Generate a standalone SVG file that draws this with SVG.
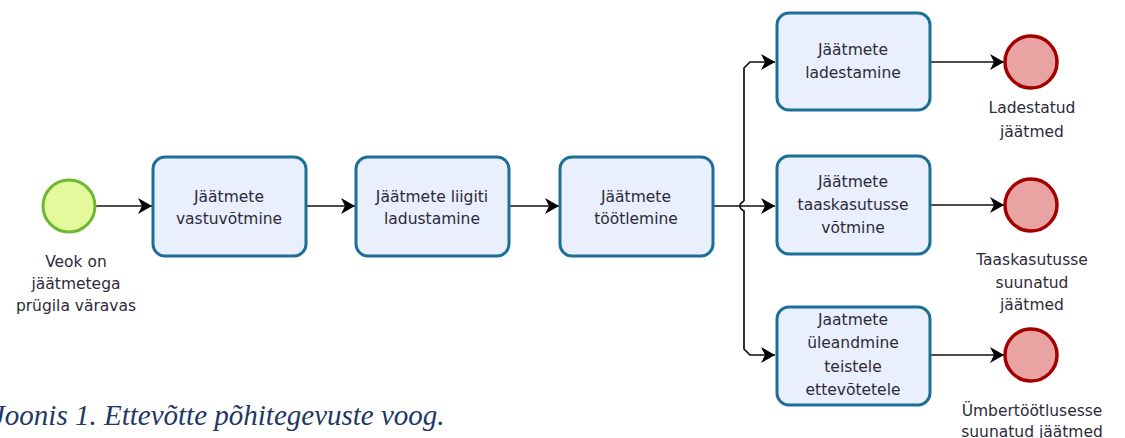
<svg xmlns="http://www.w3.org/2000/svg" width="1125" height="438" viewBox="0 0 1125 438">
<style>
.task{fill:#e9effc;stroke:#1d6f98;stroke-width:3}
.start{fill:#e4f99c;stroke:#6cb931;stroke-width:3}
.end{fill:#e9a3a3;stroke:#a40000;stroke-width:3.5}
.t{font-family:"DejaVu Sans",sans-serif;font-size:15.5px;fill:#2e2a3a;text-anchor:middle}
.c{fill:none;stroke:#111;stroke-width:1.7}
.cap{font-family:"Liberation Serif",serif;font-style:italic;font-size:29px;fill:#1f3864}
</style>
<defs>
<marker id="ar" markerWidth="15" markerHeight="16" refX="14" refY="8" orient="auto" markerUnits="userSpaceOnUse">
<path d="M0,0 L14,8 L0,16 L4,8 z" fill="#000"/>
</marker>
</defs>
<rect width="1125" height="438" fill="#fff"/>
<g id="connectors">
<path class="c" d="M95,206 L152,206" marker-end="url(#ar)"/>
<path class="c" d="M306,206 L355,206" marker-end="url(#ar)"/>
<path class="c" d="M509,206 L559,206" marker-end="url(#ar)"/>
<path class="c" d="M713,206 L775,206" marker-end="url(#ar)"/>
<path class="c" d="M744,201 L744,68 L750,62 L775,62" marker-end="url(#ar)"/>
<path class="c" d="M744,201 Q740,203 740,206 Q740,209 744,211 L744,349 L750,355 L775,355" marker-end="url(#ar)"/>
<path class="c" d="M930,62 L1004,62" marker-end="url(#ar)"/>
<path class="c" d="M930,205 L1004,205" marker-end="url(#ar)"/>
<path class="c" d="M930,355 L1004,355" marker-end="url(#ar)"/>
</g>
<g id="start">
<circle class="start" cx="69" cy="206" r="26"/>
<text class="t" x="76" y="267">Veok on</text>
<text class="t" x="76" y="289">jäätmetega</text>
<text class="t" x="76" y="311">prügila väravas</text>
</g>
<g id="task1">
<rect class="task" x="153" y="157" width="153" height="99" rx="12"/>
<text class="t" x="229" y="202">Jäätmete</text>
<text class="t" x="229" y="224">vastuvõtmine</text>
</g>
<g id="task2">
<rect class="task" x="356" y="157" width="153" height="99" rx="12"/>
<text class="t" x="432" y="202">Jäätmete liigiti</text>
<text class="t" x="432" y="224">ladustamine</text>
</g>
<g id="task3">
<rect class="task" x="560" y="157" width="153" height="99" rx="12"/>
<text class="t" x="636" y="202">Jäätmete</text>
<text class="t" x="636" y="224">töötlemine</text>
</g>
<g id="task4">
<rect class="task" x="777" y="13" width="153" height="97" rx="12"/>
<text class="t" x="853" y="55">Jäätmete</text>
<text class="t" x="853" y="78">ladestamine</text>
</g>
<g id="task5">
<rect class="task" x="777" y="156" width="153" height="98" rx="12"/>
<text class="t" x="853" y="187">Jäätmete</text>
<text class="t" x="853" y="210">taaskasutusse</text>
<text class="t" x="853" y="233">võtmine</text>
</g>
<g id="task6">
<rect class="task" x="777" y="307" width="153" height="98" rx="12"/>
<text class="t" x="853" y="325">Jaatmete</text>
<text class="t" x="853" y="348">üleandmine</text>
<text class="t" x="853" y="372">teistele</text>
<text class="t" x="853" y="395">ettevõtetele</text>
</g>
<g id="end1">
<circle class="end" cx="1031" cy="62" r="26"/>
<text class="t" x="1032" y="113">Ladestatud</text>
<text class="t" x="1032" y="137">jäätmed</text>
</g>
<g id="end2">
<circle class="end" cx="1031" cy="205" r="26"/>
<text class="t" x="1032" y="265">Taaskasutusse</text>
<text class="t" x="1032" y="288">suunatud</text>
<text class="t" x="1032" y="310">jäätmed</text>
</g>
<g id="end3">
<circle class="end" cx="1031" cy="355" r="26"/>
<text class="t" x="1032" y="416">Ümbertöötlusesse</text>
<text class="t" x="1032" y="437">suunatud jäätmed</text>
</g>
<g id="caption">
<text class="cap" x="-8" y="425">Joonis 1. Ettevõtte põhitegevuste voog.</text>
</g>
</svg>
